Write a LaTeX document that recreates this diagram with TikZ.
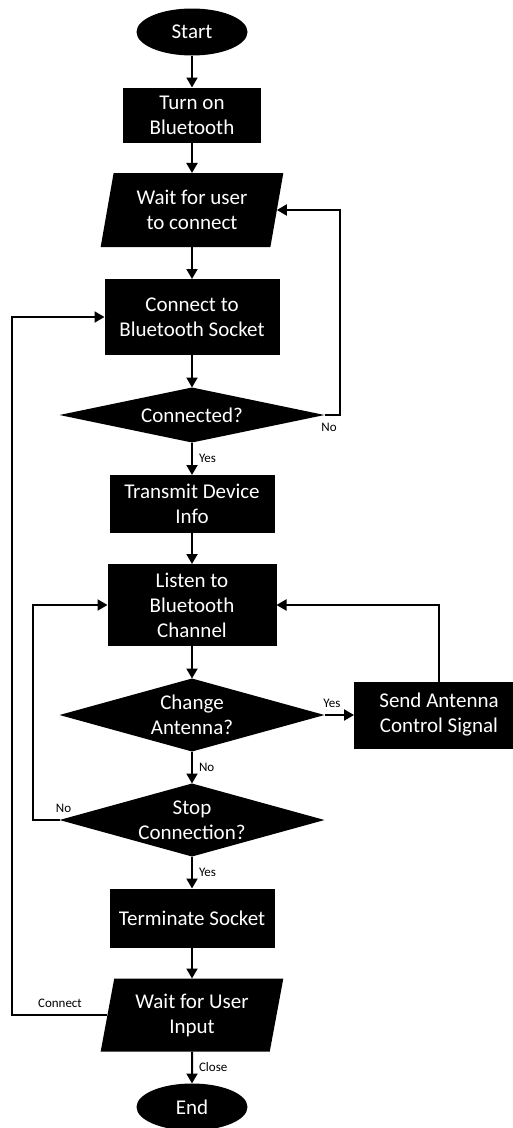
\documentclass[tikz,border=0pt]{standalone}
\usepackage{fontspec}
\setmainfont{Carlito}
\usetikzlibrary{shapes.geometric,arrows.meta}
\begin{document}
\begin{tikzpicture}[x=1pt,y=-1pt,inner sep=0pt,outer sep=0pt,line width=2pt,
>={Triangle[length=10pt,width=11pt]},
procblock/.style={rectangle,fill=black,text=white,align=center,font=\fontsize{21}{25}\selectfont},
termblock/.style={ellipse,fill=black,text=white,font=\fontsize{21}{25}\selectfont,minimum width=111pt,minimum height=47pt},
ioblock/.style={trapezium,trapezium left angle=77,trapezium right angle=103,trapezium stretches=true,fill=black,text=white,align=center,font=\fontsize{21}{25}\selectfont,minimum width=183pt,minimum height=74pt},
decblock/.style={diamond,aspect=3.6,fill=black,text=white,align=center,font=\fontsize{21}{25}\selectfont,minimum width=265pt},
lbl/.style={font=\fontsize{13}{15}\selectfont,inner sep=1pt}]
\useasboundingbox (0,0) rectangle (512,1128);
\draw (192,32) node[termblock] (start) {Start};
\draw (192,115) node[procblock,minimum width=138pt,minimum height=55pt] (bt) {Turn on\\Bluetooth};
\draw (192,210) node[ioblock] (wait1) {Wait for user\\to connect};
\draw (192,317) node[procblock,minimum width=175pt,minimum height=76pt] (sock) {Connect to\\Bluetooth Socket};
\draw (192,415) node[decblock,minimum height=55pt] (conn) {Connected?};
\draw (192,504) node[procblock,minimum width=165pt,minimum height=58pt] (info) {Transmit Device\\Info};
\draw (192,605) node[procblock,minimum width=169pt,minimum height=82pt] (listen) {Listen to\\Bluetooth\\Channel};
\draw (192,715) node[decblock,minimum height=73pt] (change) {Change\\Antenna?};
\draw (439,715) node[procblock,minimum width=170pt,minimum height=67pt] (send) {Send Antenna\\Control Signal};
\draw (192,820) node[decblock,minimum height=73pt] (stop) {Stop\\Connection?};
\draw (192,918) node[procblock,minimum width=165pt,minimum height=59pt] (term) {Terminate Socket};
\draw (192,1015) node[ioblock,minimum height=73pt] (wait2) {Wait for User\\Input};
\draw (192,1107) node[termblock] (fin) {End};
% main line
\draw[->] (start) -- (bt);
\draw[->] (bt) -- (wait1);
\draw[->] (wait1) -- (sock);
\draw[->] (sock) -- (conn);
\draw[->] (conn) -- node[lbl,right=6pt] {Yes} (info);
\draw[->] (info) -- (listen);
\draw[->] (listen) -- (change);
\draw[->] (change) -- node[lbl,right=6pt] {No} (stop);
\draw[->] (stop) -- node[lbl,right=6pt] {Yes} (term);
\draw[->] (term) -- (wait2);
\draw[->] (wait2) -- node[lbl,right=6pt] {Close} (fin);
% loops
\draw[->] (conn.east) -- node[lbl,pos=0.3,below=7pt] {No} ++(15,0) |- (wait1.east);
\draw[->] (change) -- node[lbl,pos=0.25,above=6pt] {Yes} (send);
\draw[->] (send.north) |- (listen.east);
\draw[->] (stop.west) -- node[lbl,pos=0,above=6pt,xshift=4pt] {No} ++(-27,0) |- (listen.west);
\draw[->] (wait2.west) -- node[lbl,above=6pt] {Connect} ++(-95,0) |- (sock.west);
\end{tikzpicture}
\end{document}
